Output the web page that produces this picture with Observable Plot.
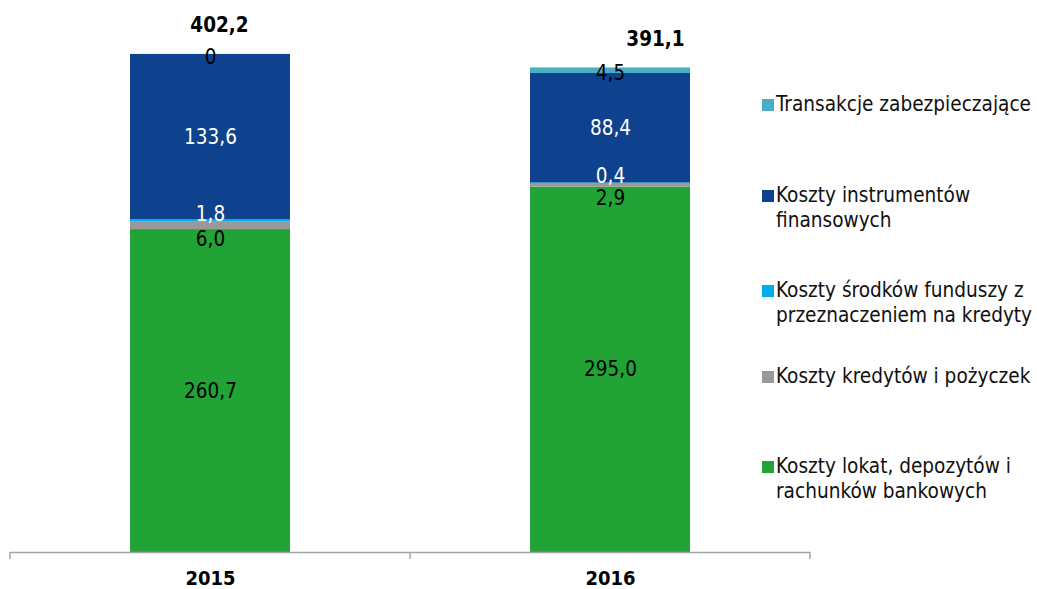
<!DOCTYPE html>
<html><head><meta charset="utf-8">
<script src="https://cdn.jsdelivr.net/npm/d3@7"></script>
<script src="https://cdn.jsdelivr.net/npm/@observablehq/plot@0.6"></script>
<style>
body{margin:0;background:#fff;}
#wrap{position:relative;width:1037px;height:589px;font-family:'DejaVu Sans Condensed','DejaVu Sans',sans-serif;}
.leg{position:absolute;left:762px;font-size:20.6px;line-height:25px;color:#111;}
.sw{position:absolute;left:0;top:7px;width:12px;height:12px;}
.lt{margin-left:14px;white-space:pre;}
</style></head><body><div id="wrap"></div>
<script>
const years = ["2015", "2016"];
const series = [
  "Koszty lokat, depozytów i rachunków bankowych",
  "Koszty kredytów i pożyczek",
  "Koszty środków funduszy z przeznaczeniem na kredyty",
  "Koszty instrumentów finansowych",
  "Transakcje zabezpieczające"
];
const values2015 = [260.7, 6.0, 1.8, 133.6, 0];
const values2016 = [295.0, 2.9, 0.4, 88.4, 4.5];
const totals = [402.2, 391.1];
const colors = ["#21A336", "#999999", "#00AEEF", "#0F428E", "#4BACC6"];
const legendText = [
  "Koszty lokat, depozytów i\nrachunków bankowych",
  "Koszty kredytów i pożyczek",
  "Koszty środków funduszy z\nprzeznaczeniem na kredyty",
  "Koszty instrumentów\nfinansowych",
  "Transakcje zabezpieczające"
];

// styling (not data)
const labelFill = ["#000", "#000", "#fff", "#fff", "#000"];
const labelDy = [0, 13.5, -7, 0, 3];
const totalDx = [9, 45];
const legendTop = [466, 376, 290, 195, 104];

const data = [];
series.forEach((s, k) => {
  data.push({year: years[0], series: s, k, value: values2015[k]});
  data.push({year: years[1], series: s, k, value: values2016[k]});
});
const totalsData = years.map((y, i) => ({year: y, total: totals[i], i}));

const fmt = v => v === 0 ? "0" : d3.format(".1f")(v).replace(".", ",");

function separators(index, scales, values, dimensions) {
  const x = scales.x;
  const bw = x.bandwidth();
  const pos = [dimensions.marginLeft];
  for (let i = 0; i < years.length - 1; i++) {
    pos.push((x(years[i]) + bw + x(years[i + 1])) / 2);
  }
  pos.push(dimensions.width - dimensions.marginRight);
  const y0 = scales.y(0);
  const g = d3.create("svg:g");
  g.selectAll("line").data(pos).join("line")
    .attr("x1", d => d).attr("x2", d => d)
    .attr("y1", y0).attr("y2", y0 + 7)
    .attr("stroke", "#a6a6a6").attr("stroke-width", 1.5);
  return g.node();
}

const chart = Plot.plot({
  width: 1037,
  height: 589,
  marginLeft: 10,
  marginRight: 227,
  marginTop: 7,
  marginBottom: 37,
  style: {fontFamily: "'DejaVu Sans Condensed','DejaVu Sans',sans-serif", fontSize: "20px", background: "#fff"},
  x: {domain: years, paddingInner: 0.6, paddingOuter: 0.3, label: null},
  y: {domain: [0, 440], axis: null},
  color: {domain: series, range: colors},
  marks: [
    Plot.barY(data, {x: "year", y: "value", fill: "series"}),
    Plot.text(data, Plot.stackY({
      x: "year", y: "value", text: d => fmt(d.value), fontSize: 20.5,
      render(index, scales, values, dimensions, context, next) {
        const g = next(index, scales, values, dimensions, context);
        g.querySelectorAll("text").forEach(t => {
          const d = data[t.__data__];
          t.setAttribute("fill", labelFill[d.k]);
          t.setAttribute("transform", (t.getAttribute("transform") || "") + ` translate(0,${labelDy[d.k]})`);
        });
        return g;
      }
    })),
    Plot.text(totalsData, {
      x: "year", y: "total", text: d => fmt(d.total), fontWeight: "bold", fontSize: 20.5, dy: -28.5, fill: "#000",
      render(index, scales, values, dimensions, context, next) {
        const g = next(index, scales, values, dimensions, context);
        g.querySelectorAll("text").forEach(t => {
          const d = totalsData[t.__data__];
          t.setAttribute("transform", (t.getAttribute("transform") || "") + ` translate(${totalDx[d.i]},0)`);
        });
        return g;
      }
    }),
    Plot.ruleY([0], {stroke: "#a6a6a6", strokeWidth: 1.5}),
    separators,
    Plot.axisX({tickSize: 0, tickPadding: 18, fontWeight: "bold", fontSize: 20, label: null, fill: "#000"})
  ]
});

const wrap = document.getElementById("wrap");
wrap.appendChild(chart);
series.forEach((s, k) => {
  const div = document.createElement("div");
  div.className = "leg";
  div.style.top = (legendTop[k] - 12.5) + "px";
  const sw = document.createElement("div");
  sw.className = "sw";
  sw.style.background = colors[k];
  const lt = document.createElement("div");
  lt.className = "lt";
  lt.textContent = legendText[k];
  div.appendChild(sw);
  div.appendChild(lt);
  wrap.appendChild(div);
});
</script></body></html>
